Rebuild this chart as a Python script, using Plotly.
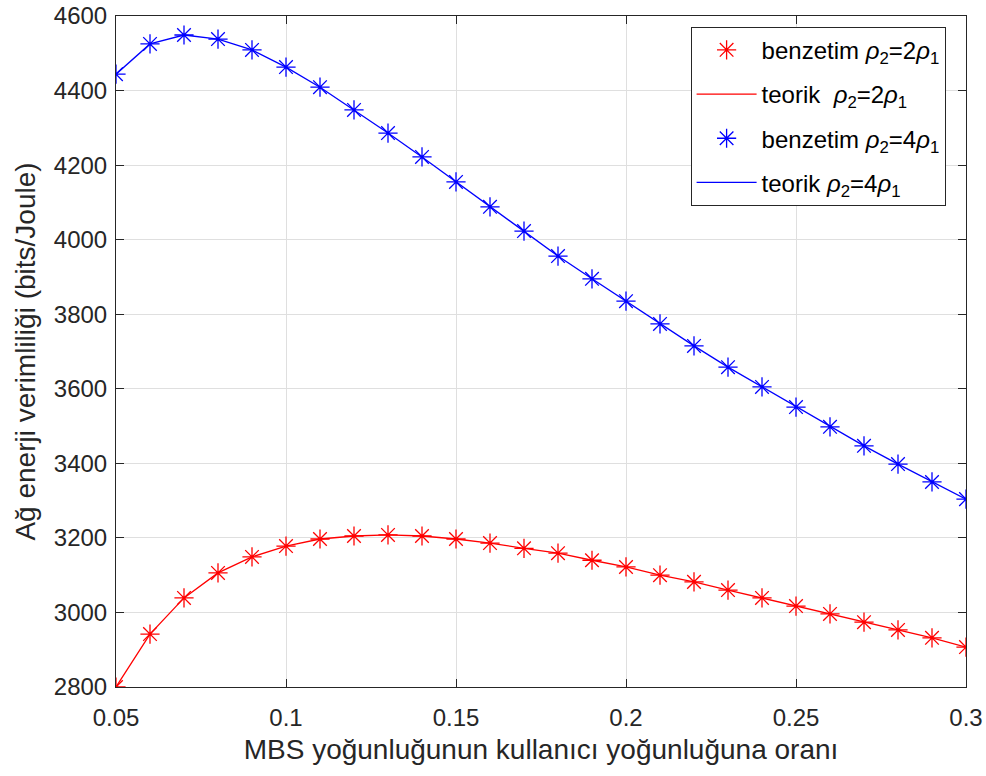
import plotly.graph_objects as go

x = [0.05, 0.06, 0.07, 0.08, 0.09, 0.10, 0.11, 0.12, 0.13, 0.14, 0.15, 0.16, 0.17,
     0.18, 0.19, 0.20, 0.21, 0.22, 0.23, 0.24, 0.25, 0.26, 0.27, 0.28, 0.29, 0.30]

red_vals = [2800, 2942, 3039, 3106, 3149, 3178, 3197, 3205, 3208, 3205, 3197, 3186, 3172,
            3159, 3140, 3122, 3100, 3082, 3060, 3039, 3017, 2996, 2974, 2953, 2932, 2907]

blue_vals = [4444, 4525, 4549, 4538, 4509, 4463, 4409, 4348, 4286, 4222, 4155, 4088, 4023,
             3956, 3895, 3835, 3774, 3715, 3658, 3605, 3551, 3498, 3447, 3398, 3350, 3304]

x_ticks = [0.05, 0.1, 0.15, 0.2, 0.25, 0.3]
x_ticktext = ["0.05", "0.1", "0.15", "0.2", "0.25", "0.3"]

names = [
    "benzetim <i>ρ</i><sub>2</sub>=2<i>ρ</i><sub>1</sub>",
    "teorik  <i>ρ</i><sub>2</sub>=2<i>ρ</i><sub>1</sub>",
    "benzetim <i>ρ</i><sub>2</sub>=4<i>ρ</i><sub>1</sub>",
    "teorik <i>ρ</i><sub>2</sub>=4<i>ρ</i><sub>1</sub>",
]

FONT = "Liberation Sans, Arial, sans-serif"
TXT = "#262626"

fig = go.Figure()
fig.add_trace(go.Scatter(x=x, y=red_vals, mode="markers", name=names[0], legendgroup="a",
                         marker=dict(symbol="asterisk-open", size=16, color="#ff0000",
                                     line=dict(color="#ff0000", width=1.3))))
fig.add_trace(go.Scatter(x=x, y=red_vals, mode="lines", name=names[1], legendgroup="b",
                         line=dict(color="#ff0000", width=1.3)))
fig.add_trace(go.Scatter(x=x, y=blue_vals, mode="markers", name=names[2], legendgroup="c",
                         marker=dict(symbol="asterisk-open", size=16, color="#0000ff",
                                     line=dict(color="#0000ff", width=1.3))))
fig.add_trace(go.Scatter(x=x, y=blue_vals, mode="lines", name=names[3], legendgroup="d",
                         line=dict(color="#0000ff", width=1.3)))

axis_common = dict(
    showgrid=True, gridcolor="#dfdfdf", gridwidth=1,
    showline=True, linecolor=TXT, linewidth=1, mirror="ticks",
    ticks="inside", ticklen=8, tickcolor=TXT,
    tickfont=dict(family=FONT, size=24, color=TXT),
    zeroline=False,
)

fig.update_layout(
    width=986, height=776,
    paper_bgcolor="white", plot_bgcolor="white",
    margin=dict(l=116, r=20, t=16, b=89),
    font=dict(family=FONT, color=TXT, size=24),
    xaxis=dict(range=[0.05, 0.3], tickvals=x_ticks, ticktext=x_ticktext,
               ticklabelstandoff=9,
               title=dict(text="MBS yoğunluğunun kullanıcı yoğunluğuna oranı",
                          font=dict(family=FONT, size=28, color=TXT), standoff=9),
               automargin=False,
               **axis_common),
    yaxis=dict(range=[2800, 4600], dtick=200,
               ticklabelstandoff=3,
               title=dict(text="Ağ enerji verimliliği (bits/Joule)",
                          font=dict(family=FONT, size=28, color=TXT), standoff=10),
               automargin=False,
               **axis_common),
    legend=dict(x=0.676, y=0.984, xanchor="left", yanchor="top",
                bgcolor="white", bordercolor=TXT, borderwidth=1,
                font=dict(family=FONT, size=24, color="black"),
                itemwidth=60, tracegroupgap=10),
    showlegend=True,
)

fig.write_html("out.html")
